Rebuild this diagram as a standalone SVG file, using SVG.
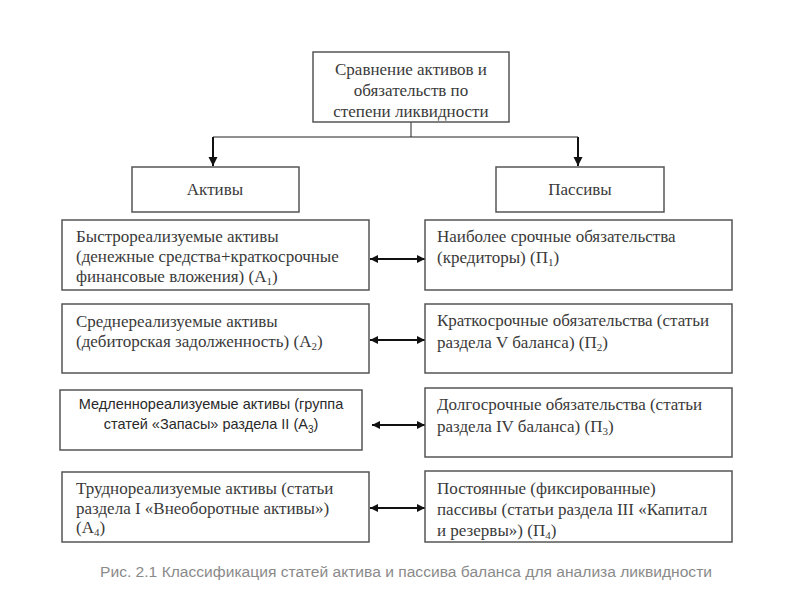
<svg xmlns="http://www.w3.org/2000/svg" width="800" height="600" viewBox="0 0 800 600">
<defs>
<marker id="ah" viewBox="0 0 10 10" refX="10" refY="5" markerWidth="8" markerHeight="8" markerUnits="userSpaceOnUse" orient="auto-start-reverse">
<path d="M0,0 L10,5 L0,10 Z" fill="#111"/>
</marker>
<marker id="ad" viewBox="0 0 10 10" refX="10" refY="5" markerWidth="9" markerHeight="11" markerUnits="userSpaceOnUse" orient="auto">
<path d="M0,0 L10,5 L0,10 Z" fill="#111"/>
</marker>
</defs>
<style>
.box{fill:#fff;stroke:#555;stroke-width:1.5}
.t{font-family:"Liberation Serif","Times New Roman",serif;font-size:17px;fill:#3a3a3a}
.s{font-family:"Liberation Sans",Arial,sans-serif;font-size:14.5px;fill:#2a2a2a}
.c{text-anchor:middle}
.cap{font-family:"Liberation Sans",Arial,sans-serif;font-size:14px;fill:#8a8a8a}
.ln{stroke:#222;stroke-width:1;fill:none}
.ar{stroke:#111;stroke-width:2;fill:none}
</style>
<rect width="800" height="600" fill="#fff"/>
<g id="connectors">
<path class="ln" d="M411,122 V137 M213,137 H578"/>
<path class="ar" d="M213,137 V166" marker-end="url(#ad)"/>
<path class="ar" d="M578,137 V166" marker-end="url(#ad)"/>
<path class="ar" d="M370,259 H425" marker-start="url(#ah)" marker-end="url(#ah)"/>
<path class="ar" d="M370,340 H425" marker-start="url(#ah)" marker-end="url(#ah)"/>
<path class="ar" d="M372,425 H425" marker-start="url(#ah)" marker-end="url(#ah)"/>
<path class="ar" d="M370,508 H425" marker-start="url(#ah)" marker-end="url(#ah)"/>
</g>
<g id="top">
<rect class="box" x="313" y="52" width="196" height="70"/>
<text class="t c" x="411" y="75">Сравнение активов и</text>
<text class="t c" x="411" y="96">обязательств по</text>
<text class="t c" x="411" y="117">степени ликвидности</text>
</g>
<g id="aktivy">
<rect class="box" x="132" y="167" width="167" height="45"/>
<text class="t c" x="215" y="195">Активы</text>
</g>
<g id="passivy">
<rect class="box" x="496" y="167" width="168" height="45"/>
<text class="t c" x="580" y="195">Пассивы</text>
</g>
<g id="a1">
<rect class="box" x="62" y="220" width="307" height="70"/>
<text class="t" x="76" y="242">Быстрореализуемые активы</text>
<text class="t" x="76" y="262">(денежные средства+краткосрочные</text>
<text class="t" x="76" y="282">финансовые вложения) (А<tspan font-size="11" dy="3">1</tspan><tspan dy="-3">)</tspan></text>
</g>
<g id="p1">
<rect class="box" x="425" y="220" width="307" height="70"/>
<text class="t" x="437" y="242">Наиболее срочные обязательства</text>
<text class="t" x="437" y="263">(кредиторы) (П<tspan font-size="11" dy="3">1</tspan><tspan dy="-3">)</tspan></text>
</g>
<g id="a2">
<rect class="box" x="62" y="304" width="307" height="69"/>
<text class="t" x="76" y="327">Среднереализуемые активы</text>
<text class="t" x="76" y="347">(дебиторская задолженность)  (А<tspan font-size="11" dy="3">2</tspan><tspan dy="-3">)</tspan></text>
</g>
<g id="p2">
<rect class="box" x="425" y="304" width="307" height="69"/>
<text class="t" x="437" y="326">Краткосрочные обязательства (статьи</text>
<text class="t" x="437" y="348">раздела V баланса) (П<tspan font-size="11" dy="3">2</tspan><tspan dy="-3">)</tspan></text>
</g>
<g id="a3">
<rect class="box" x="60" y="390" width="302" height="60"/>
<text class="s c" x="211" y="409">Медленнореализуемые активы (группа</text>
<text class="s c" x="211" y="429">статей «Запасы» раздела II (А<tspan font-size="10" dy="4">3</tspan><tspan dy="-4">)</tspan></text>
</g>
<g id="p3">
<rect class="box" x="425" y="388" width="307" height="69"/>
<text class="t" x="437" y="410">Долгосрочные обязательства (статьи</text>
<text class="t" x="437" y="432">раздела IV баланса) (П<tspan font-size="11" dy="3">3</tspan><tspan dy="-3">)</tspan></text>
</g>
<g id="a4">
<rect class="box" x="62" y="472" width="307" height="70"/>
<text class="t" x="76" y="494">Труднореализуемые активы (статьи</text>
<text class="t" x="76" y="514">раздела I «Внеоборотные активы»)</text>
<text class="t" x="76" y="533">(А<tspan font-size="11" dy="3">4</tspan><tspan dy="-3">)</tspan></text>
</g>
<g id="p4">
<rect class="box" x="425" y="471" width="307" height="71"/>
<text class="t" x="437" y="494">Постоянные (фиксированные)</text>
<text class="t" x="437" y="515">пассивы (статьи раздела III «Капитал</text>
<text class="t" x="437" y="536">и резервы») (П<tspan font-size="11" dy="3">4</tspan><tspan dy="-3">)</tspan></text>
</g>
<text class="cap" x="100" y="577" textLength="612" lengthAdjust="spacingAndGlyphs">Рис.  2.1 Классификация статей актива и пассива баланса для анализа ликвидности</text>
</svg>
